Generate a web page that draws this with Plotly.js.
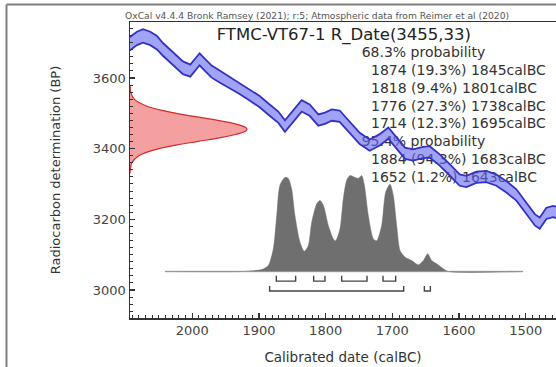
<!DOCTYPE html>
<html><head><meta charset="utf-8">
<script src="https://cdn.plot.ly/plotly-3.0.1.min.js"></script>
<style>html,body{margin:0;padding:0;background:#fff}#chart{width:556px;height:367px}</style>
</head><body><div id="chart"></div>
<script>
// ---- data ----
const headerText = "OxCal v4.4.4 Bronk Ramsey (2021); r:5; Atmospheric data from Reimer et al (2020)";
const titleText = "FTMC-VT67-1 R_Date(3455,33)";
const xTitle = "Calibrated date (calBC)";
const yTitle = "Radiocarbon determination (BP)";

// calibration curve (calBC, BP, 1-sigma)
const curveCal = [2100,2093,2083,2074,2063,2053,2044,2033,2023,2014,2003,1996,1989,1981,1971,1959,1944,1929,1914,1899,1884,1871,1861,1849,1836,1824,1811,1801,1791,1779,1764,1749,1734,1719,1706,1694,1681,1669,1654,1644,1629,1614,1599,1589,1574,1559,1544,1529,1514,1499,1486,1479,1469,1459,1445];
const curveBP  = [3690,3698,3712,3719,3712,3700,3681,3662,3643,3629,3621,3637,3653,3637,3618,3604,3587,3571,3552,3533,3509,3489,3464,3491,3521,3509,3481,3486,3495,3492,3461,3429,3410,3425,3444,3415,3387,3382,3389,3391,3368,3340,3311,3307,3319,3321,3311,3292,3269,3231,3198,3189,3217,3222,3215];
const curveErr = [19,19,19,19,19,19,18,18,18,18,17,17,17,17,17,17,16,16,16,16,16,16,16,16,16,16,16,16,16,16,16,16,16,16,16,16,16,16,16,16,16,16,16,16,16,16,16,16,16,16,16,16,16,16,16];

// radiocarbon measurement distribution (BP, relative height)
const redBP = [3580,3560,3540,3520,3500,3490,3480,3470,3460,3455,3450,3440,3430,3420,3410,3400,3380,3360,3340,3330];
const redH  = [0.001,0.006,0.036,0.144,0.395,0.570,0.750,0.902,0.989,1,0.989,0.902,0.750,0.570,0.395,0.249,0.076,0.016,0.002,0.001];

// calibrated probability distribution (calBC, relative %)
const distCal = [2041,1925,1910,1896,1886,1878.5,1873.4,1868.5,1861,1856,1851,1846,1838.5,1832,1826,1821,1813.4,1808.5,1803.5,1796,1788.5,1785,1778.5,1773.5,1768.5,1763.5,1756,1751,1746,1742,1736,1728.5,1723.5,1716,1710,1703.5,1698.5,1693.5,1688.5,1681,1671,1661,1653.5,1647,1641,1633.5,1623.5,1616,1504];
const distP   = [0,0,0.8,2,6.3,23.6,58,90,98,97,86,58,30.5,21,27,51,70.5,74,69,48,34,32,44.5,76,95,100,98,97,100,90,58,34,32,48,82.6,91,79,48,22,15,11.5,7,11.5,18.4,11.5,8,2.8,0,0];

// ranges
const probLevels = ["68.3% probability", "95.4% probability"];
const from68 = [1874,1818,1776,1714], to68 = [1845,1801,1738,1695], pct68 = [19.3,9.4,27.3,12.3];
const from95 = [1884,1652],           to95 = [1683,1643],           pct95 = [94.3,1.2];

// ---- layout constants ----
const W = 556, H = 367;
const mL = 130, mR = 0, mT = 22, mB = 49;
const xRange = [2093.4, 1454.6];
const yRange = [2920.7, 3758.5];
const FONT = "DejaVu Sans, Verdana, sans-serif";
const textXHead = 1746, textXItem = 1732, textY0 = 3669, textStep = 50.4;
const lev68 = {bot: 3025, top: 3040}, lev95 = {bot: 2997, top: 3011};

// text lines
const lines = [], lx = [];
lines.push(probLevels[0]); lx.push(textXHead);
from68.forEach((a,i)=>{ lines.push(`${a} (${pct68[i]}%) ${to68[i]}calBC`); lx.push(textXItem); });
lines.push(probLevels[1]); lx.push(textXHead);
from95.forEach((a,i)=>{ lines.push(`${a} (${pct95[i]}%) ${to95[i]}calBC`); lx.push(textXItem); });
const ly = lines.map((_,i)=> textY0 - i*textStep);

function brackets(fr, to, lev){
  const x=[], y=[];
  fr.forEach((a,i)=>{ x.push(a,a,to[i],to[i],null); y.push(lev.top,lev.bot,lev.bot,lev.top,null); });
  return {x,y};
}
const b68 = brackets(from68,to68,lev68), b95 = brackets(from95,to95,lev95);

const traces = [
  {x: lx, y: ly, text: lines, mode:'text', textposition:'middle right', type:'scatter',
   textfont:{family:FONT, size:14, color:'#333'}, hoverinfo:'skip', cliponaxis:false},
  {x: curveCal, y: curveBP.map((v,i)=>v-curveErr[i]), mode:'lines', type:'scatter',
   line:{color:'#3232c4', width:1.8}, hoverinfo:'skip'},
  {x: curveCal, y: curveBP.map((v,i)=>v+curveErr[i]), mode:'lines', type:'scatter', fill:'tonexty',
   fillcolor:'rgba(100,100,240,0.6)', line:{color:'#3232c4', width:1.8}, hoverinfo:'skip'},
  {x: b68.x, y: b68.y, mode:'lines', type:'scatter', line:{color:'#444', width:1.4}, hoverinfo:'skip'},
  {x: b95.x, y: b95.y, mode:'lines', type:'scatter', line:{color:'#444', width:1.4}, hoverinfo:'skip'},
  {x: redH, y: redBP, xaxis:'x2', yaxis:'y', mode:'lines', type:'scatter', fill:'tozerox',
   fillcolor:'rgba(244,160,160,1)', line:{color:'#d42a2a', width:1.2, shape:'spline'}, hoverinfo:'skip'},
  {x: [distCal[0], distCal[distCal.length-1]], y:[0,0], xaxis:'x', yaxis:'y2', mode:'lines', type:'scatter',
   line:{color:'#bdbdbd', width:1.5}, hoverinfo:'skip'},
  {x: distCal, y: distP, xaxis:'x', yaxis:'y2', mode:'lines', type:'scatter', fill:'tozeroy',
   fillcolor:'#6f6f6f', line:{color:'#6f6f6f', width:0.5, shape:'spline', smoothing:0.7}, hoverinfo:'skip'}
];

const axisCommon = {showgrid:false, zeroline:false, showline:true, linecolor:'#333', linewidth:1.5,
  ticks:'inside', ticklen:5, tickwidth:1.2, tickcolor:'#333',
  tickfont:{family:FONT, size:13, color:'#444'}};

const layout = {
  width: W, height: H,
  margin:{l:mL, r:mR, t:mT, b:mB, pad:0},
  paper_bgcolor:'#fff', plot_bgcolor:'#fff',
  showlegend:false,
  title:{text:titleText, font:{family:FONT, size:16.5, color:'#222'},
    xref:'paper', x:0.502, xanchor:'center', yref:'container', y:1-34/H, yanchor:'middle'},
  xaxis: Object.assign({}, axisCommon, {range:xRange, dtick:100, mirror:true,
    minor:{dtick:10, ticks:'inside', ticklen:3, tickcolor:'#333', tickwidth:1},
    title:{text:xTitle, font:{family:FONT, size:13.5, color:'#333'}, standoff:15}}),
  yaxis: Object.assign({}, axisCommon, {range:yRange, dtick:200,
    minor:{dtick:20, ticks:'inside', ticklen:3, tickcolor:'#333', tickwidth:1},
    title:{text:yTitle, font:{family:FONT, size:13, color:'#333'}, standoff:29}}),
  xaxis2:{overlaying:'x', range:[0, 426/117], visible:false, showgrid:false, zeroline:false},
  yaxis2:{overlaying:'y', range:[-48.4, 259.9], visible:false, showgrid:false, zeroline:false},
  annotations:[
    {text: headerText, xref:'paper', yref:'paper', x:(123-mL)/426, y:(318-15.5)/296,
     xanchor:'left', yanchor:'middle', showarrow:false, font:{family:FONT, size:9.2, color:'#555'}}
  ],
  shapes:[
    {type:'line', xref:'paper', yref:'paper', x0:(6.5-mL)/426, x1:1.2, y0:(318-4.5)/296, y1:(318-4.5)/296,
     line:{color:'#808080', width:2}},
    {type:'line', xref:'paper', yref:'paper', x0:(6.5-mL)/426, x1:(6.5-mL)/426, y0:(318-4.5)/296, y1:-0.3,
     line:{color:'#808080', width:2}}
  ]
};

Plotly.newPlot('chart', traces, layout, {displayModeBar:false, staticPlot:true});
</script>
</body></html>
